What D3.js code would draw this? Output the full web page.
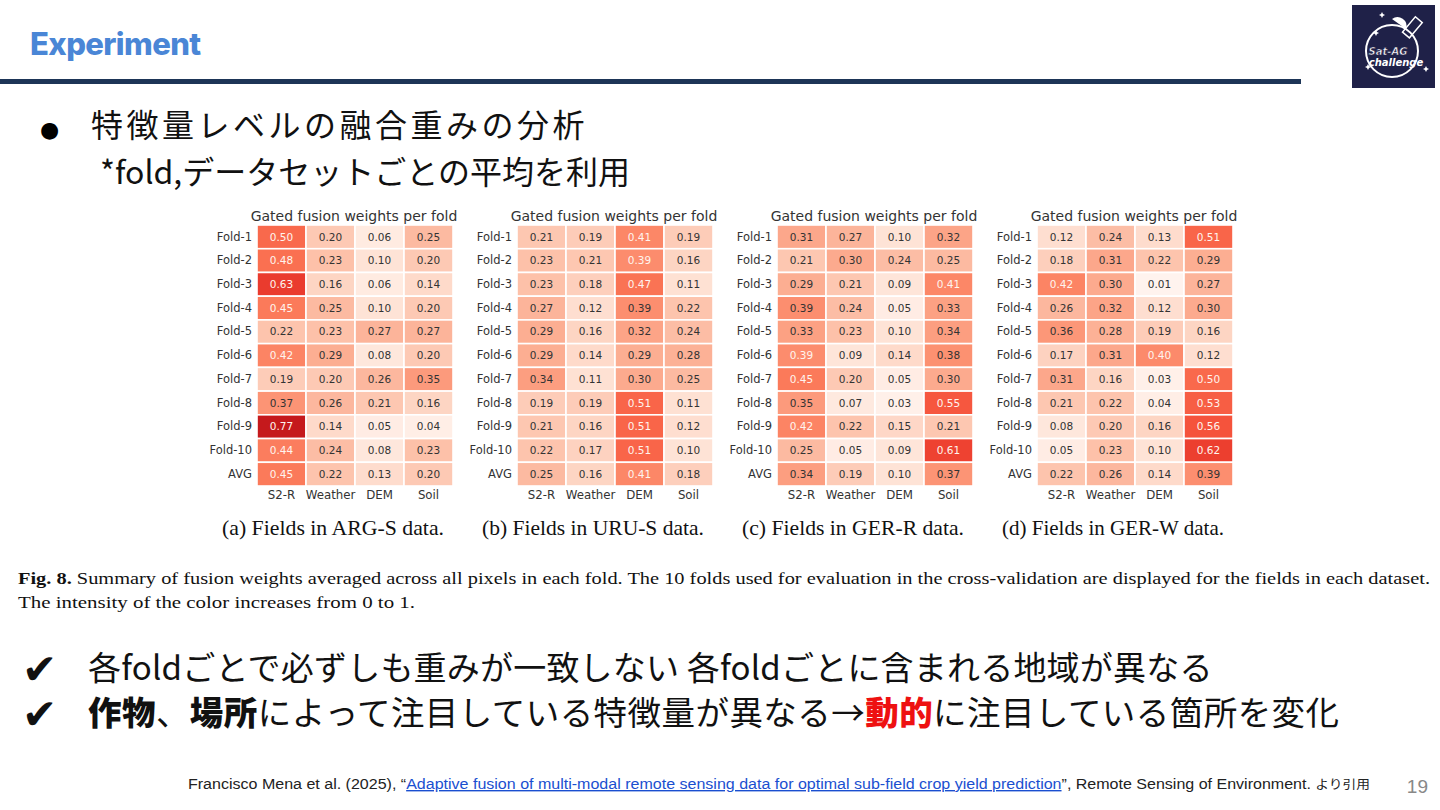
<!DOCTYPE html>
<html>
<head>
<meta charset="utf-8">
<script src="https://cdn.jsdelivr.net/npm/d3@7"></script>
<style>
  body { margin: 0; background: #fff; }
  svg { display: block; }
</style>
</head>
<body>
<svg id="slide" width="1440" height="810"></svg>
<script>
// ---- data ----
const folds = ["Fold-1", "Fold-2", "Fold-3", "Fold-4", "Fold-5", "Fold-6", "Fold-7", "Fold-8", "Fold-9", "Fold-10", "AVG"];
const sources = ["S2-R", "Weather", "DEM", "Soil"];
const datasets = ["ARG-S", "URU-S", "GER-R", "GER-W"];
const panelTags = ["(a)", "(b)", "(c)", "(d)"];

// rows = folds, columns = sources
const argS = [
  [0.50, 0.20, 0.06, 0.25],
  [0.48, 0.23, 0.10, 0.20],
  [0.63, 0.16, 0.06, 0.14],
  [0.45, 0.25, 0.10, 0.20],
  [0.22, 0.23, 0.27, 0.27],
  [0.42, 0.29, 0.08, 0.20],
  [0.19, 0.20, 0.26, 0.35],
  [0.37, 0.26, 0.21, 0.16],
  [0.77, 0.14, 0.05, 0.04],
  [0.44, 0.24, 0.08, 0.23],
  [0.45, 0.22, 0.13, 0.20]
];
const uruS = [
  [0.21, 0.19, 0.41, 0.19],
  [0.23, 0.21, 0.393, 0.16],
  [0.23, 0.18, 0.47, 0.11],
  [0.27, 0.12, 0.388, 0.22],
  [0.29, 0.16, 0.32, 0.24],
  [0.29, 0.14, 0.29, 0.28],
  [0.34, 0.11, 0.30, 0.25],
  [0.19, 0.19, 0.51, 0.11],
  [0.21, 0.16, 0.51, 0.12],
  [0.22, 0.17, 0.51, 0.10],
  [0.25, 0.16, 0.41, 0.18]
];
const gerR = [
  [0.31, 0.27, 0.10, 0.32],
  [0.21, 0.30, 0.24, 0.25],
  [0.29, 0.21, 0.09, 0.41],
  [0.388, 0.24, 0.05, 0.33],
  [0.33, 0.23, 0.10, 0.34],
  [0.393, 0.09, 0.14, 0.38],
  [0.45, 0.20, 0.05, 0.30],
  [0.35, 0.07, 0.03, 0.55],
  [0.42, 0.22, 0.15, 0.21],
  [0.25, 0.05, 0.09, 0.61],
  [0.34, 0.19, 0.10, 0.37]
];
const gerW = [
  [0.12, 0.24, 0.13, 0.51],
  [0.18, 0.31, 0.22, 0.29],
  [0.42, 0.30, 0.01, 0.27],
  [0.26, 0.32, 0.12, 0.30],
  [0.36, 0.28, 0.19, 0.16],
  [0.17, 0.31, 0.40, 0.12],
  [0.31, 0.16, 0.03, 0.50],
  [0.21, 0.22, 0.04, 0.53],
  [0.08, 0.20, 0.16, 0.56],
  [0.05, 0.23, 0.10, 0.62],
  [0.22, 0.26, 0.14, 0.388]
];
const panels = [argS, uruS, gerR, gerW];

// ---- slide chrome ----
const svg = d3.select("#slide");
const jp = "'Noto Sans CJK JP', 'Noto Sans', sans-serif";

svg.append("text")
   .attr("x", 30).attr("y", 55)
   .attr("font-family", "Inter, 'Noto Sans', sans-serif")
   .attr("font-weight", 800)
   .attr("font-size", 31)
   .attr("letter-spacing", -0.6)
   .attr("fill", "#4a86d6")
   .text("Experiment");

svg.append("rect")
   .attr("x", 0).attr("y", 79).attr("width", 1301).attr("height", 5)
   .attr("fill", "#1d3557");

// logo
const logo = svg.append("g").attr("transform", "translate(1352,5)");
logo.append("rect").attr("width", 83).attr("height", 83).attr("fill", "#1f2148");
logo.append("circle").attr("cx", 40).attr("cy", 46).attr("r", 26)
    .attr("fill", "none").attr("stroke", "#fff").attr("stroke-width", 2);
[[30, 10], [24, 28], [16, 62], [74, 64]].forEach(p => {
  logo.append("path").attr("d", `M${p[0]},${p[1]-3}l1,2l2,1l-2,1l-1,2l-1,-2l-2,-1l2,-1z`).attr("fill", "#fff");
});
logo.append("rect").attr("x", 50).attr("y", 18).attr("width", 20).attr("height", 9)
    .attr("transform", "rotate(-50,60,22)").attr("fill", "none").attr("stroke", "#fff").attr("stroke-width", 1.5);
logo.append("path").attr("d", "M40,14 a9,9 0 0,1 14,10 z").attr("fill", "#fff");
logo.append("text").attr("x", 36).attr("y", 50).attr("text-anchor", "middle")
    .attr("font-family", "'DejaVu Sans', sans-serif").attr("font-style", "italic").attr("font-weight", 700)
    .attr("font-size", 10).attr("fill", "#fff").attr("stroke", "#1f2148").attr("stroke-width", 0.5)
    .text("Sat-AG");
logo.append("text").attr("x", 44).attr("y", 61).attr("text-anchor", "middle")
    .attr("font-family", "'DejaVu Sans', sans-serif").attr("font-style", "italic").attr("font-weight", 700)
    .attr("font-size", 10).attr("fill", "#fff")
    .text("challenge");

// bullet text
svg.append("text").attr("x", 40).attr("y", 137)
   .attr("font-family", "'DejaVu Sans', sans-serif").attr("font-size", 22).text("●");
svg.append("text").attr("x", 91).attr("y", 137)
   .attr("font-family", jp).attr("font-size", 32).attr("letter-spacing", 3.5)
   .attr("fill", "#111").text("特徴量レベルの融合重みの分析");
svg.append("text").attr("x", 100).attr("y", 184)
   .attr("font-family", jp).attr("font-size", 32)
   .attr("fill", "#111").text("*fold,データセットごとの平均を利用");

// ---- heatmaps ----
const color = d3.scaleSequential(d3.interpolateReds).domain([0, 1]);
const cellW = 196, gridTop = 225, gridBottom = 486;

panels.forEach((data, i) => {
  const x0 = 257 + i * 260;
  const x = d3.scaleBand().domain(sources).range([x0, x0 + cellW]);
  const y = d3.scaleBand().domain(folds).range([gridTop, gridBottom]);
  const g = svg.append("g");

  const cells = [];
  data.forEach((row, r) => row.forEach((v, c) => cells.push({fold: folds[r], src: sources[c], v: v})));

  g.selectAll("rect")
   .data(cells)
   .enter().append("rect")
   .attr("x", d => x(d.src))
   .attr("y", d => y(d.fold))
   .attr("width", x.bandwidth())
   .attr("height", y.bandwidth())
   .attr("fill", d => color(d.v))
   .attr("stroke", "#fff")
   .attr("stroke-width", 1.6);

  g.selectAll("text.val")
   .data(cells)
   .enter().append("text")
   .attr("class", "val")
   .attr("x", d => x(d.src) + x.bandwidth() / 2)
   .attr("y", d => y(d.fold) + y.bandwidth() / 2)
   .attr("dy", "0.35em")
   .attr("text-anchor", "middle")
   .attr("font-family", "'DejaVu Sans', sans-serif")
   .attr("font-size", 10.5)
   .attr("fill", d => d.v > 0.39 ? "#fff4ee" : "#333")
   .text(d => d3.format(".2f")(d.v));

  // row labels
  const yAxis = d3.axisLeft(y).tickSize(0).tickPadding(5);
  g.append("g")
   .attr("transform", `translate(${x0},0)`)
   .call(yAxis)
   .call(s => s.select(".domain").remove())
   .selectAll("text")
   .attr("font-family", "'DejaVu Sans', sans-serif")
   .attr("font-size", 11.5)
   .attr("fill", "#333");

  // column labels
  const xAxis = d3.axisBottom(x).tickSize(0).tickPadding(5);
  g.append("g")
   .attr("transform", `translate(0,${gridBottom})`)
   .call(xAxis)
   .call(s => s.select(".domain").remove())
   .selectAll("text")
   .attr("font-family", "'DejaVu Sans', sans-serif")
   .attr("font-size", 11.8)
   .attr("fill", "#333");

  // title
  g.append("text")
   .attr("x", x0 + cellW / 2 - 1).attr("y", 221)
   .attr("text-anchor", "middle")
   .attr("font-family", "'DejaVu Sans', sans-serif")
   .attr("font-size", 14)
   .attr("fill", "#333")
   .text("Gated fusion weights per fold");

  // sub-caption
  g.append("text")
   .attr("x", 222 + i * 260).attr("y", 535)
   .attr("font-family", "'Liberation Serif', serif")
   .attr("font-size", 21)
   .attr("fill", "#111")
   .attr("textLength", 222).attr("lengthAdjust", "spacingAndGlyphs")
   .text(`${panelTags[i]} Fields in ${datasets[i]} data.`);
});

// figure caption
const cap1 = svg.append("text").attr("x", 18).attr("y", 584)
   .attr("font-family", "'Liberation Serif', serif").attr("font-size", 17.5).attr("fill", "#111")
   .attr("textLength", 1412).attr("lengthAdjust", "spacingAndGlyphs");
cap1.append("tspan").attr("font-weight", 700).text("Fig. 8. ");
cap1.append("tspan").text("Summary of fusion weights averaged across all pixels in each fold. The 10 folds used for evaluation in the cross-validation are displayed for the fields in each dataset.");
svg.append("text").attr("x", 18).attr("y", 608)
   .attr("font-family", "'Liberation Serif', serif").attr("font-size", 17.5).attr("fill", "#111")
   .attr("textLength", 397).attr("lengthAdjust", "spacingAndGlyphs")
   .text("The intensity of the color increases from 0 to 1.");

// conclusions
const check = (yy) => svg.append("text").attr("x", 22).attr("y", yy)
   .attr("font-family", "'DejaVu Sans', sans-serif").attr("font-size", 42).attr("fill", "#111").text("✔");
check(684); check(729);
svg.append("text").attr("x", 88).attr("y", 680)
   .attr("font-family", jp).attr("font-size", 33).attr("letter-spacing", 0.2).attr("fill", "#111")
   .text("各foldごとで必ずしも重みが一致しない 各foldごとに含まれる地域が異なる");
const l2 = svg.append("text").attr("x", 88).attr("y", 725)
   .attr("font-family", jp).attr("font-size", 33.5).attr("letter-spacing", 0.45).attr("fill", "#111");
l2.append("tspan").attr("font-weight", 900).text("作物");
l2.append("tspan").text("、");
l2.append("tspan").attr("font-weight", 900).text("場所");
l2.append("tspan").text("によって注目している特徴量が異なる→");
l2.append("tspan").attr("font-weight", 900).attr("fill", "#ee1111").text("動的");
l2.append("tspan").text("に注目している箇所を変化");

// footer
const foot = svg.append("text").attr("x", 188).attr("y", 789)
   .attr("font-family", "'Liberation Sans Narrow', 'Liberation Sans', sans-serif")
   .attr("font-size", 14).attr("fill", "#222")
   .attr("textLength", 1182).attr("lengthAdjust", "spacingAndGlyphs");
foot.append("tspan").text("Francisco Mena et al. (2025), “");
foot.append("tspan").attr("fill", "#1a4fd0").attr("text-decoration", "underline")
    .text("Adaptive fusion of multi-modal remote sensing data for optimal sub-field crop yield prediction");
foot.append("tspan").text("”, Remote Sensing of Environment. ");
foot.append("tspan").attr("font-family", jp).attr("font-size", 12).text("より引用");

svg.append("text").attr("x", 1428).attr("y", 793).attr("text-anchor", "end")
   .attr("font-family", "'Liberation Sans Narrow', 'Liberation Sans', sans-serif")
   .attr("font-size", 19).attr("fill", "#888").text("19");
</script>
</body>
</html>
